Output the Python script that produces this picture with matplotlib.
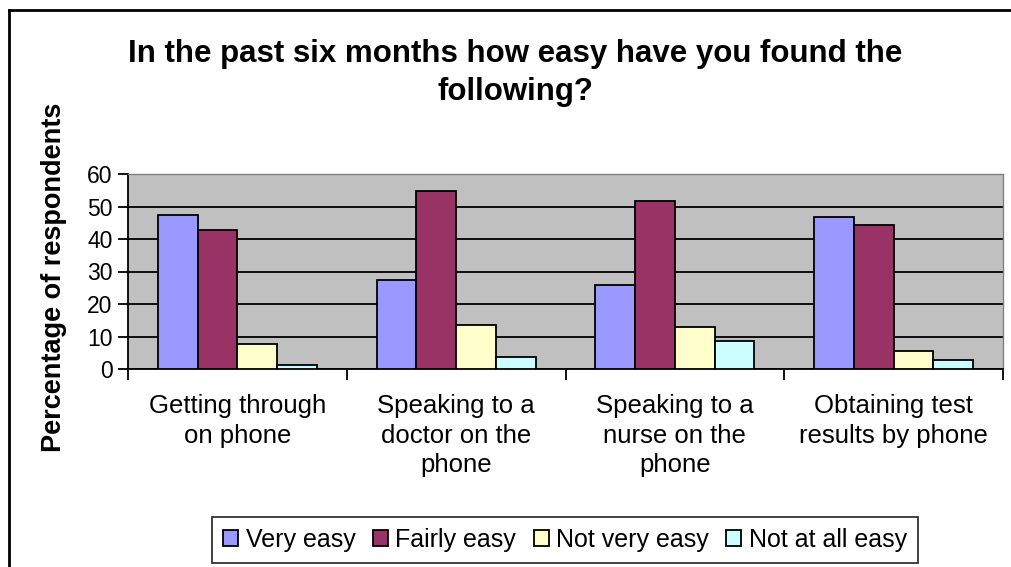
import numpy as np
import matplotlib
matplotlib.use("Agg")
import matplotlib.pyplot as plt
from matplotlib.lines import Line2D

categories = [
    "Getting through\non phone",
    "Speaking to a\ndoctor on the\nphone",
    "Speaking to a\nnurse on the\nphone",
    "Obtaining test\nresults by phone",
]
series_names = ["Very easy", "Fairly easy", "Not very easy", "Not at all easy"]
very_easy = [47.4, 27.4, 26.0, 46.7]
fairly_easy = [42.8, 54.8, 51.6, 44.3]
not_very_easy = [7.8, 13.5, 13.0, 5.4]
not_at_all_easy = [1.1, 3.6, 8.6, 2.9]
y_ticks = [0, 10, 20, 30, 40, 50, 60]

colors = ["#9999FF", "#993366", "#FFFFCC", "#CCFFFF"]

plt.rcParams["font.family"] = ["Liberation Sans", "DejaVu Sans"]

fig = plt.figure(figsize=(10.11, 5.67), dpi=100)
W, H = 1011, 567
ax = fig.add_axes([128 / W, 1 - 369 / H, (1003 - 128) / W, (369 - 174) / H])
ax.set_facecolor("#C0C0C0")

series = [very_easy, fairly_easy, not_very_easy, not_at_all_easy]
n = len(series)
width = 1 / 5.5
x = np.arange(len(categories))
handles = []
for i, (vals, name, c) in enumerate(zip(series, series_names, colors)):
    offs = (i - (n - 1) / 2) * width
    b = ax.bar(x + offs, vals, width, color=c, edgecolor="black",
               linewidth=1.3, label=name, zorder=3)
    handles.append(b)

ax.set_xlim(-0.5, len(categories) - 0.5)
ax.set_ylim(0, 60)
ax.set_yticks(y_ticks)
ax.tick_params(axis="y", labelsize=16.5, length=7, width=1.3, direction="out", pad=4)
ax.yaxis.grid(True, color="black", linewidth=1.3, zorder=1)
ax.set_axisbelow(True)

ax.set_xticks(np.arange(len(categories) + 1) - 0.5)
ax.set_xticklabels([])
ax.tick_params(axis="x", length=8, width=1.3, direction="out")
ax.set_xticks(x, minor=True)
ax.set_xticklabels(categories, minor=True, fontsize=18.5, linespacing=1.3, va="top")
ax.tick_params(axis="x", which="minor", length=0, pad=18)

for side in ["top", "right"]:
    ax.spines[side].set_color("#808080")
    ax.spines[side].set_linewidth(1.0)
for side in ["left", "bottom"]:
    ax.spines[side].set_color("black")
    ax.spines[side].set_linewidth(1.3)

fig.text(515 / W, 1 - 73 / H,
         "In the past six months how easy have you found the\nfollowing?",
         ha="center", va="center", fontsize=22.5, fontweight="bold",
         linespacing=1.35)
fig.text(54 / W, 1 - 277 / H, "Percentage of respondents", rotation=90,
         ha="center", va="center", fontsize=19.5, fontweight="bold")

leg = fig.legend(handles=handles, loc="center", ncol=4,
                 bbox_to_anchor=(565 / W, 1 - 540 / H), fontsize=18,
                 frameon=True, fancybox=False, edgecolor="black",
                 handlelength=0.6, handleheight=0.6, handletextpad=0.3,
                 columnspacing=0.7, borderpad=0.45, borderaxespad=0)
leg.get_frame().set_linewidth(1.3)

# outer chart border (only left and top edges fall inside the image)
fig.add_artist(Line2D([8.5 / W, 8.5 / W], [0, 1 - 9.5 / H],
                      transform=fig.transFigure, color="black", linewidth=2))
fig.add_artist(Line2D([8.5 / W, 1.0], [1 - 9.5 / H, 1 - 9.5 / H],
                      transform=fig.transFigure, color="black", linewidth=2))

fig.savefig("out.png", dpi=100)
